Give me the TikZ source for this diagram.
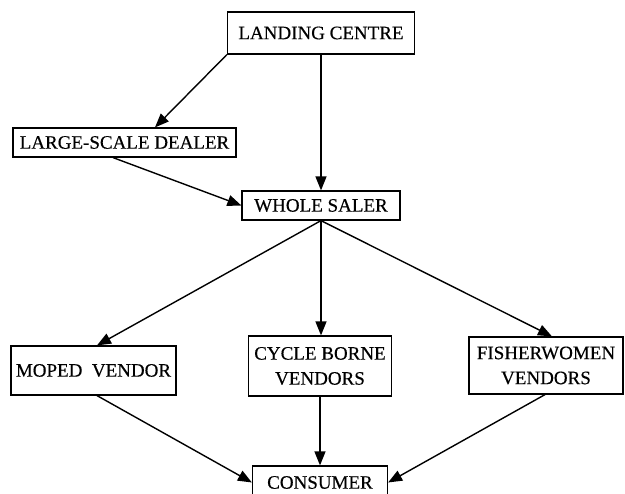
\documentclass[tikz,border=0pt]{standalone}
\usepackage{fontspec}
\setmainfont{Liberation Serif}[FakeBold=0.4]
\usetikzlibrary{arrows.meta}
\tikzset{
  box/.style={draw=black, line width=1.2pt, inner sep=0pt, align=center,
    font=\fontsize{19}{25}\selectfont, text=black},
  flow/.style={draw=black, line width=1.4pt,
    -{Triangle[length=14pt,width=11pt]}}
}
\begin{document}
\begin{tikzpicture}[x=1pt,y=-1pt]
  \useasboundingbox (0,0) rectangle (625,494);
  % boxes
  \node[box, minimum width=187pt, minimum height=42pt] (landing) at (321,33) {LANDING CENTRE};
  \node[box, minimum width=223pt, minimum height=29pt] (large) at (124.5,142.5) {LARGE-SCALE DEALER};
  \node[box, minimum width=158pt, minimum height=29pt] (whole) at (321,205.5) {WHOLE SALER};
  \node[box, minimum width=165pt, minimum height=49pt] (moped) at (93.5,370.5) {MOPED\ \ VENDOR};
  \node[box, minimum width=143pt, minimum height=60pt] (cycle) at (320,366) {CYCLE BORNE\\VENDORS};
  \node[box, minimum width=154pt, minimum height=57pt] (fisher) at (546,365.5) {FISHERWOMEN\\VENDORS};
  \node[box, minimum width=135pt, minimum height=33pt] (consumer) at (320,482.5) {CONSUMER};
  % connectors
  \draw[flow] (landing.south west) -- ([xshift=30.5pt]large.north);
  \draw[flow] (landing.south) -- (landing.south |- whole.north);
  \draw[flow] ([xshift=-11.5pt]large.south) -- (whole.west);
  \draw[flow] (whole.south) -- ([xshift=3.5pt]moped.north);
  \draw[flow] (whole.south) -- (whole.south |- cycle.north);
  \draw[flow] (whole.south) -- ([xshift=6pt]fisher.north);
  \draw[flow] ([xshift=3.5pt]moped.south) -- (consumer.west);
  \draw[flow] (cycle.south) -- (consumer.north);
  \draw[flow] ([xshift=-1pt]fisher.south) -- (consumer.east);
\end{tikzpicture}
\end{document}
